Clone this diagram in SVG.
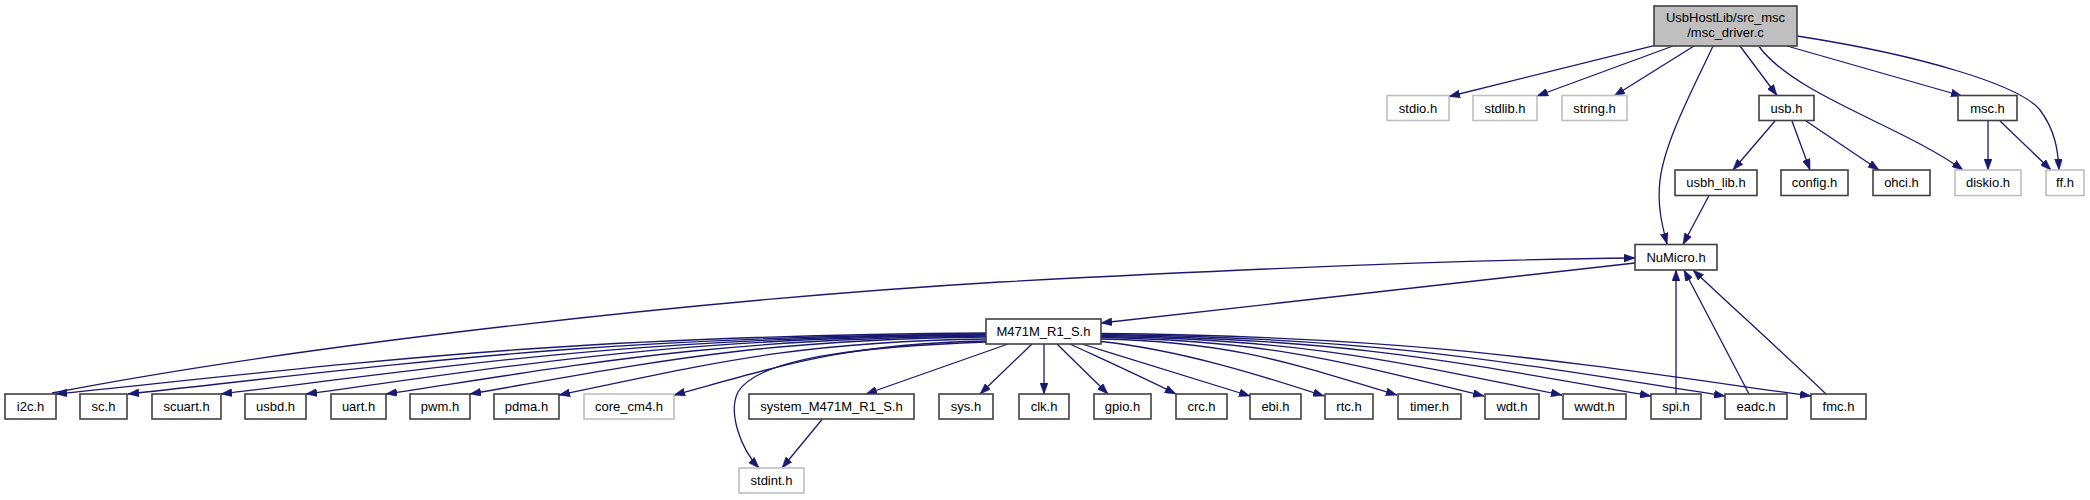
<svg xmlns="http://www.w3.org/2000/svg" width="2090" height="500" viewBox="0 0 2090 500">
<style>
.n rect{fill:#fff;stroke:#404040;stroke-width:1.6}
.g rect{fill:#fff;stroke:#bfbfbf;stroke-width:1.6}
.m rect{fill:#bfbfbf;stroke:#404040;stroke-width:1.6}
text{font-family:"Liberation Sans",Arial,sans-serif;font-size:13px;fill:#000;text-anchor:middle}
#edges path{fill:none;stroke:#191970;stroke-width:1.3;marker-end:url(#ah)}
</style>
<defs>
<marker id="ah" viewBox="0 0 11 8" refX="11" refY="4" markerWidth="11" markerHeight="8" orient="auto" markerUnits="userSpaceOnUse">
<path d="M0,0 L11,4 L0,8 z" fill="#191970" stroke="#191970" stroke-width="0.5"/>
</marker>
</defs>
<rect width="2090" height="500" fill="#fff"/>
<g id="edges">
<path d="M1654,45.7 L1449,96.5"/>
<path d="M1673,46 L1537,96"/>
<path d="M1694,46 L1614,96"/>
<path d="M1740,46 L1777,95.5"/>
<path d="M1759,46.5 C1795,95 1900,125 1963,170"/>
<path d="M1787,46 L1962,96"/>
<path d="M1797,36 C1920,55 2020,85 2040,110 C2055,130 2058,150 2059,170"/>
<path d="M1713,46 C1695,85 1665,140 1660,180 C1657,205 1662,225 1667,244"/>
<path d="M1775,121 L1733,170"/>
<path d="M1792,121 L1810,170"/>
<path d="M1806,121 L1879,170"/>
<path d="M1988,121 L1988,170"/>
<path d="M2000,121 L2051,170"/>
<path d="M1709,195.5 L1683,244.5"/>
<path d="M1635,263 L1101,323"/>
<path d="M52,393 C300,345 700,300 1000,282 C1300,266 1500,259 1635,258"/>
<path d="M1676,394 L1676,270"/>
<path d="M1749,394 L1684,270"/>
<path d="M1826,394 C1780,350 1730,305 1693,270"/>
<path d="M986,333 C567.5,336 381.5,360.4 56,394"/>
<path d="M986,334 C599.9,337 428.3,361 128,394"/>
<path d="M986,334.5 C641.8,337.5 488.8,361.3 221,394"/>
<path d="M986,335 C680,338 544,361.5 306,394"/>
<path d="M986,336 C716,338.9 596,362.1 386,394"/>
<path d="M986,337 C753.8,339.9 650.6,362.7 470,394"/>
<path d="M986,339 C793.9,341.8 708.5,364.2 559,395"/>
<path d="M986,341 C845.6,343.7 783.2,365.3 674,395"/>
<path d="M986,342 C880,346 760,355 738,392 C728,412 740,448 759,468"/>
<path d="M1008,344 L866,394"/>
<path d="M1032,344 L980,394"/>
<path d="M1044,344 L1044,394"/>
<path d="M1057,344 L1108,394"/>
<path d="M1070,344 C1100,358 1140,376 1176,394"/>
<path d="M1082,344 C1140,362 1200,380 1250,396"/>
<path d="M1101,341.5 C1180,350 1260,375 1324,396"/>
<path d="M1101,339 C1234.2,341.8 1293.4,364.2 1397,395"/>
<path d="M1101,337.5 C1273.4,340.4 1349.9,363.8 1484,396"/>
<path d="M1101,336.5 C1308.5,339.4 1400.6,362.8 1562,395"/>
<path d="M1101,335.5 C1348.5,338.5 1458.5,362.7 1651,396"/>
<path d="M1101,334.5 C1381.8,337.6 1506.6,362.2 1725,396"/>
<path d="M1101,333.5 C1420.5,336.6 1562.5,361.6 1811,396"/>
<path d="M822,419.5 L782,468"/>
</g>
<g id="main" class="m"><rect x="1654" y="6" width="143" height="40"/><text x="1725.5" y="21.5">UsbHostLib/src_msc</text><text x="1725.5" y="37">/msc_driver.c</text></g>
<g id="stdio" class="g"><rect x="1387" y="95.5" width="62" height="25"/><text x="1418" y="112.5">stdio.h</text></g>
<g id="stdlib" class="g"><rect x="1473" y="95.5" width="64" height="25"/><text x="1505" y="112.5">stdlib.h</text></g>
<g id="string" class="g"><rect x="1562" y="95.5" width="65" height="25"/><text x="1594.5" y="112.5">string.h</text></g>
<g id="usb" class="n"><rect x="1759" y="95.5" width="55" height="25"/><text x="1786.5" y="112.5">usb.h</text></g>
<g id="msc" class="n"><rect x="1958" y="95.5" width="59" height="25"/><text x="1987.5" y="112.5">msc.h</text></g>
<g id="usbh_lib" class="n"><rect x="1675" y="170" width="82" height="25.5"/><text x="1716" y="187">usbh_lib.h</text></g>
<g id="config" class="n"><rect x="1781" y="170" width="67" height="25.5"/><text x="1814.5" y="187">config.h</text></g>
<g id="ohci" class="n"><rect x="1873" y="170" width="57" height="25.5"/><text x="1901.5" y="187">ohci.h</text></g>
<g id="diskio" class="g"><rect x="1955" y="170" width="66" height="25.5"/><text x="1988" y="187">diskio.h</text></g>
<g id="ff" class="g"><rect x="2046" y="170" width="38" height="25.5"/><text x="2065" y="187">ff.h</text></g>
<g id="NuMicro" class="n"><rect x="1635" y="244.5" width="82" height="25.5"/><text x="1676" y="261.5">NuMicro.h</text></g>
<g id="M471M" class="n"><rect x="986" y="319" width="115" height="25"/><text x="1043.5" y="336">M471M_R1_S.h</text></g>
<g id="i2c" class="n"><rect x="5" y="394" width="51" height="25"/><text x="30.5" y="411">i2c.h</text></g>
<g id="sc" class="n"><rect x="80" y="394" width="47" height="25"/><text x="103.5" y="411">sc.h</text></g>
<g id="scuart" class="n"><rect x="152" y="394" width="69" height="25"/><text x="186.5" y="411">scuart.h</text></g>
<g id="usbd" class="n"><rect x="245" y="394" width="61" height="25"/><text x="275.5" y="411">usbd.h</text></g>
<g id="uart" class="n"><rect x="331" y="394" width="55" height="25"/><text x="358.5" y="411">uart.h</text></g>
<g id="pwm" class="n"><rect x="410" y="394" width="60" height="25"/><text x="440" y="411">pwm.h</text></g>
<g id="pdma" class="n"><rect x="494" y="394" width="65" height="25"/><text x="526.5" y="411">pdma.h</text></g>
<g id="core_cm4" class="g"><rect x="584" y="394" width="90" height="25"/><text x="629" y="411">core_cm4.h</text></g>
<g id="system" class="n"><rect x="749" y="394" width="165" height="25"/><text x="831.5" y="411">system_M471M_R1_S.h</text></g>
<g id="sys" class="n"><rect x="939" y="394" width="54" height="25"/><text x="966" y="411">sys.h</text></g>
<g id="clk" class="n"><rect x="1019" y="394" width="50" height="25"/><text x="1044" y="411">clk.h</text></g>
<g id="gpio" class="n"><rect x="1094" y="394" width="57" height="25"/><text x="1122.5" y="411">gpio.h</text></g>
<g id="crc" class="n"><rect x="1176" y="394" width="51" height="25"/><text x="1201.5" y="411">crc.h</text></g>
<g id="ebi" class="n"><rect x="1250" y="394" width="51" height="25"/><text x="1275.5" y="411">ebi.h</text></g>
<g id="rtc" class="n"><rect x="1325" y="394" width="48" height="25"/><text x="1349" y="411">rtc.h</text></g>
<g id="timer" class="n"><rect x="1398" y="394" width="63" height="25"/><text x="1429.5" y="411">timer.h</text></g>
<g id="wdt" class="n"><rect x="1485" y="394" width="54" height="25"/><text x="1512" y="411">wdt.h</text></g>
<g id="wwdt" class="n"><rect x="1563" y="394" width="63" height="25"/><text x="1594.5" y="411">wwdt.h</text></g>
<g id="spi" class="n"><rect x="1651" y="394" width="50" height="25"/><text x="1676" y="411">spi.h</text></g>
<g id="eadc" class="n"><rect x="1725" y="394" width="62" height="25"/><text x="1756" y="411">eadc.h</text></g>
<g id="fmc" class="n"><rect x="1811" y="394" width="55" height="25"/><text x="1838.5" y="411">fmc.h</text></g>
<g id="stdint" class="g"><rect x="739" y="468" width="65" height="25"/><text x="771.5" y="485">stdint.h</text></g>
</svg>
